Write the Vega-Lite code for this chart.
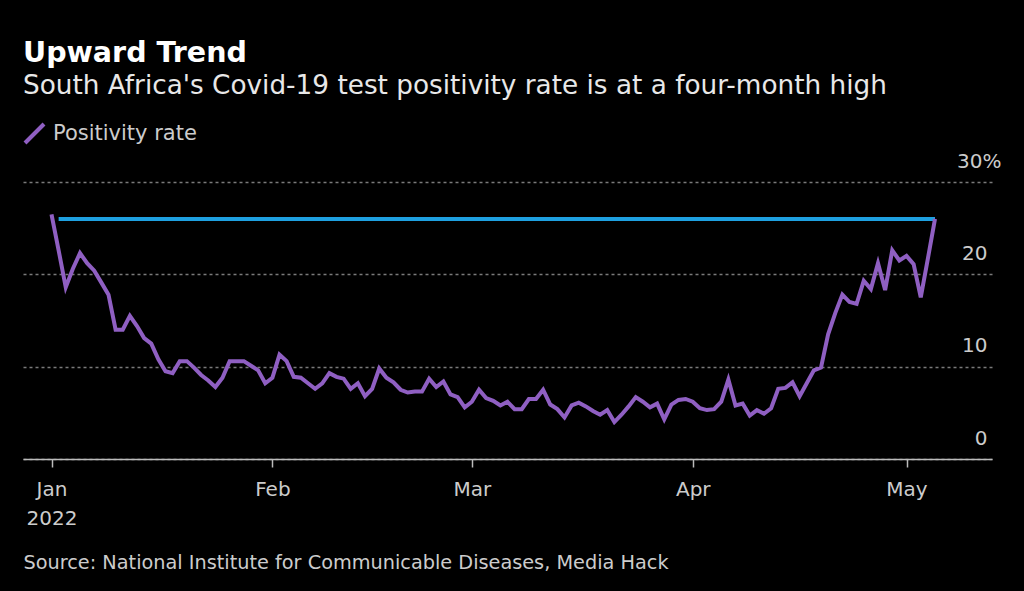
{
  "$schema": "https://vega.github.io/schema/vega-lite/v6.json",
  "background": "#000000",
  "width": 969,
  "height": 277,
  "autosize": {"type": "none"},
  "padding": {"left": 23, "top": 182, "right": 32, "bottom": 132},
  "title": {
    "text": "Upward Trend",
    "subtitle": "South Africa's Covid-19 test positivity rate is at a four-month high",
    "anchor": "start",
    "font": "DejaVu Sans",
    "fontSize": 28.5,
    "fontWeight": "bold",
    "color": "#ffffff",
    "subtitleFont": "DejaVu Sans",
    "subtitleFontSize": 26.3,
    "subtitleColor": "#e8e8e8",
    "subtitlePadding": 5,
    "offset": 23
  },
  "config": {
    "view": {"stroke": null},
    "font": "DejaVu Sans"
  },
  "layer": [
    {
      "data": {"values": [
        {"date": "2022-01-02", "level": 26.0},
        {"date": "2022-05-05", "level": 26.0}
      ]},
      "mark": {"type": "line", "color": "#1ea0e0", "strokeWidth": 4, "strokeCap": "butt"},
      "encoding": {
        "x": {"field": "date", "type": "temporal"},
        "y": {"field": "level", "type": "quantitative"}
      }
    },
    {
      "data": {"values": [
        {"date": "2022-01-01", "rate": 26.5},
        {"date": "2022-01-02", "rate": 22.6},
        {"date": "2022-01-03", "rate": 18.6},
        {"date": "2022-01-04", "rate": 20.6},
        {"date": "2022-01-05", "rate": 22.3},
        {"date": "2022-01-06", "rate": 21.2},
        {"date": "2022-01-07", "rate": 20.4},
        {"date": "2022-01-08", "rate": 19.1},
        {"date": "2022-01-09", "rate": 17.8},
        {"date": "2022-01-10", "rate": 14.0},
        {"date": "2022-01-11", "rate": 14.0},
        {"date": "2022-01-12", "rate": 15.5},
        {"date": "2022-01-13", "rate": 14.4},
        {"date": "2022-01-14", "rate": 13.1},
        {"date": "2022-01-15", "rate": 12.5},
        {"date": "2022-01-16", "rate": 10.8},
        {"date": "2022-01-17", "rate": 9.5},
        {"date": "2022-01-18", "rate": 9.3},
        {"date": "2022-01-19", "rate": 10.6},
        {"date": "2022-01-20", "rate": 10.6},
        {"date": "2022-01-21", "rate": 9.9},
        {"date": "2022-01-22", "rate": 9.1},
        {"date": "2022-01-23", "rate": 8.5},
        {"date": "2022-01-24", "rate": 7.8},
        {"date": "2022-01-25", "rate": 8.8},
        {"date": "2022-01-26", "rate": 10.6},
        {"date": "2022-01-27", "rate": 10.6},
        {"date": "2022-01-28", "rate": 10.6},
        {"date": "2022-01-29", "rate": 10.1},
        {"date": "2022-01-30", "rate": 9.6},
        {"date": "2022-01-31", "rate": 8.2},
        {"date": "2022-02-01", "rate": 8.8},
        {"date": "2022-02-02", "rate": 11.3},
        {"date": "2022-02-03", "rate": 10.6},
        {"date": "2022-02-04", "rate": 8.9},
        {"date": "2022-02-05", "rate": 8.8},
        {"date": "2022-02-06", "rate": 8.2},
        {"date": "2022-02-07", "rate": 7.6},
        {"date": "2022-02-08", "rate": 8.2},
        {"date": "2022-02-09", "rate": 9.3},
        {"date": "2022-02-10", "rate": 8.9},
        {"date": "2022-02-11", "rate": 8.7},
        {"date": "2022-02-12", "rate": 7.6},
        {"date": "2022-02-13", "rate": 8.2},
        {"date": "2022-02-14", "rate": 6.8},
        {"date": "2022-02-15", "rate": 7.6},
        {"date": "2022-02-16", "rate": 9.8},
        {"date": "2022-02-17", "rate": 8.8},
        {"date": "2022-02-18", "rate": 8.3},
        {"date": "2022-02-19", "rate": 7.5},
        {"date": "2022-02-20", "rate": 7.2},
        {"date": "2022-02-21", "rate": 7.3},
        {"date": "2022-02-22", "rate": 7.3},
        {"date": "2022-02-23", "rate": 8.7},
        {"date": "2022-02-24", "rate": 7.8},
        {"date": "2022-02-25", "rate": 8.4},
        {"date": "2022-02-26", "rate": 7.0},
        {"date": "2022-02-27", "rate": 6.7},
        {"date": "2022-02-28", "rate": 5.6},
        {"date": "2022-03-01", "rate": 6.2},
        {"date": "2022-03-02", "rate": 7.5},
        {"date": "2022-03-03", "rate": 6.6},
        {"date": "2022-03-04", "rate": 6.3},
        {"date": "2022-03-05", "rate": 5.8},
        {"date": "2022-03-06", "rate": 6.2},
        {"date": "2022-03-07", "rate": 5.4},
        {"date": "2022-03-08", "rate": 5.4},
        {"date": "2022-03-09", "rate": 6.5},
        {"date": "2022-03-10", "rate": 6.5},
        {"date": "2022-03-11", "rate": 7.5},
        {"date": "2022-03-12", "rate": 5.9},
        {"date": "2022-03-13", "rate": 5.4},
        {"date": "2022-03-14", "rate": 4.5},
        {"date": "2022-03-15", "rate": 5.8},
        {"date": "2022-03-16", "rate": 6.1},
        {"date": "2022-03-17", "rate": 5.7},
        {"date": "2022-03-18", "rate": 5.2},
        {"date": "2022-03-19", "rate": 4.8},
        {"date": "2022-03-20", "rate": 5.3},
        {"date": "2022-03-21", "rate": 4.0},
        {"date": "2022-03-22", "rate": 4.8},
        {"date": "2022-03-23", "rate": 5.7},
        {"date": "2022-03-24", "rate": 6.7},
        {"date": "2022-03-25", "rate": 6.2},
        {"date": "2022-03-26", "rate": 5.6},
        {"date": "2022-03-27", "rate": 6.0},
        {"date": "2022-03-28", "rate": 4.3},
        {"date": "2022-03-29", "rate": 5.9},
        {"date": "2022-03-30", "rate": 6.4},
        {"date": "2022-03-31", "rate": 6.5},
        {"date": "2022-04-01", "rate": 6.2},
        {"date": "2022-04-02", "rate": 5.5},
        {"date": "2022-04-03", "rate": 5.3},
        {"date": "2022-04-04", "rate": 5.4},
        {"date": "2022-04-05", "rate": 6.2},
        {"date": "2022-04-06", "rate": 8.6},
        {"date": "2022-04-07", "rate": 5.8},
        {"date": "2022-04-08", "rate": 6.0},
        {"date": "2022-04-09", "rate": 4.7},
        {"date": "2022-04-10", "rate": 5.3},
        {"date": "2022-04-11", "rate": 4.9},
        {"date": "2022-04-12", "rate": 5.5},
        {"date": "2022-04-13", "rate": 7.6},
        {"date": "2022-04-14", "rate": 7.7},
        {"date": "2022-04-15", "rate": 8.3},
        {"date": "2022-04-16", "rate": 6.8},
        {"date": "2022-04-17", "rate": 8.2},
        {"date": "2022-04-18", "rate": 9.6},
        {"date": "2022-04-19", "rate": 9.9},
        {"date": "2022-04-20", "rate": 13.5},
        {"date": "2022-04-21", "rate": 15.8},
        {"date": "2022-04-22", "rate": 17.8},
        {"date": "2022-04-23", "rate": 17.0},
        {"date": "2022-04-24", "rate": 16.8},
        {"date": "2022-04-25", "rate": 19.3},
        {"date": "2022-04-26", "rate": 18.4},
        {"date": "2022-04-27", "rate": 21.2},
        {"date": "2022-04-28", "rate": 18.3},
        {"date": "2022-04-29", "rate": 22.6},
        {"date": "2022-04-30", "rate": 21.5},
        {"date": "2022-05-01", "rate": 22.0},
        {"date": "2022-05-02", "rate": 21.1},
        {"date": "2022-05-03", "rate": 17.5},
        {"date": "2022-05-04", "rate": 21.7},
        {"date": "2022-05-05", "rate": 26.0}
      ]},
      "mark": {"type": "line", "strokeWidth": 4, "strokeJoin": "miter"},
      "encoding": {
        "x": {"field": "date", "type": "temporal"},
        "y": {"field": "rate", "type": "quantitative"},
        "color": {
          "datum": "Positivity rate",
          "scale": {"range": ["#8f5fc2"]},
          "legend": {
            "orient": "none",
            "legendX": 0,
            "legendY": -60,
            "title": null,
            "symbolType": "M-1,1L1,-1",
            "symbolSize": 361,
            "symbolStrokeWidth": 4,
            "labelFont": "DejaVu Sans",
            "labelFontSize": 21,
            "labelColor": "#cccccc",
            "labelOffset": 7
          }
        }
      }
    }
  ],
  "resolve": {"scale": {"color": "independent"}},
  "encoding": {
    "x": {
      "field": "date",
      "type": "temporal",
      "scale": {
        "type": "utc",
        "domain": [
          {"year": 2021, "month": 12, "date": 28, "utc": true},
          {"year": 2022, "month": 5, "date": 13, "utc": true}
        ]
      },
      "axis": {
        "values": [
          {"year": 2022, "month": 1, "date": 1, "utc": true},
          {"year": 2022, "month": 2, "date": 1, "utc": true},
          {"year": 2022, "month": 3, "date": 1, "utc": true},
          {"year": 2022, "month": 4, "date": 1, "utc": true},
          {"year": 2022, "month": 5, "date": 1, "utc": true}
        ],
        "labelExpr": "utcFormat(datum.value, '%m') == '01' ? [utcFormat(datum.value, '%b'), utcFormat(datum.value, '%Y')] : utcFormat(datum.value, '%b')",
        "grid": false,
        "domainColor": "#bbbbbb",
        "domainWidth": 1.5,
        "tickColor": "#bbbbbb",
        "tickWidth": 1.5,
        "tickSize": 8,
        "labelFont": "DejaVu Sans",
        "labelFontSize": 20,
        "labelColor": "#cccccc",
        "labelPadding": 12,
        "labelLineHeight": 29,
        "labelBaseline": "top",
        "labelFlush": false,
        "labelOverlap": false,
        "title": "Source: National Institute for Communicable Diseases, Media Hack",
        "titleFont": "DejaVu Sans",
        "titleFontSize": 19.3,
        "titleFontWeight": "normal",
        "titleColor": "#cccccc",
        "titleAnchor": "start",
        "titleAlign": "left",
        "titleBaseline": "alphabetic",
        "titleX": 0,
        "titleY": 109
      }
    },
    "y": {
      "type": "quantitative",
      "scale": {"domain": [0, 30], "nice": false, "zero": true},
      "axis": {
        "orient": "right",
        "values": [0, 10, 20, 30],
        "title": null,
        "domain": false,
        "ticks": false,
        "tickSize": 0,
        "grid": true,
        "gridColor": "#7a7a7a",
        "gridDash": [3, 3],
        "gridWidth": 1.5,
        "labelExpr": "datum.value == 30 ? '30%' : datum.label",
        "labelAlign": "right",
        "labelPadding": {"condition": {"test": "datum.value == 30", "value": 9}, "value": -5},
        "labelBaseline": "middle",
        "labelOffset": -21,
        "labelFont": "DejaVu Sans",
        "labelFontSize": 20,
        "labelColor": "#cccccc",
        "labelFlush": false,
        "labelBound": false,
        "labelOverlap": false
      }
    }
  }
}
